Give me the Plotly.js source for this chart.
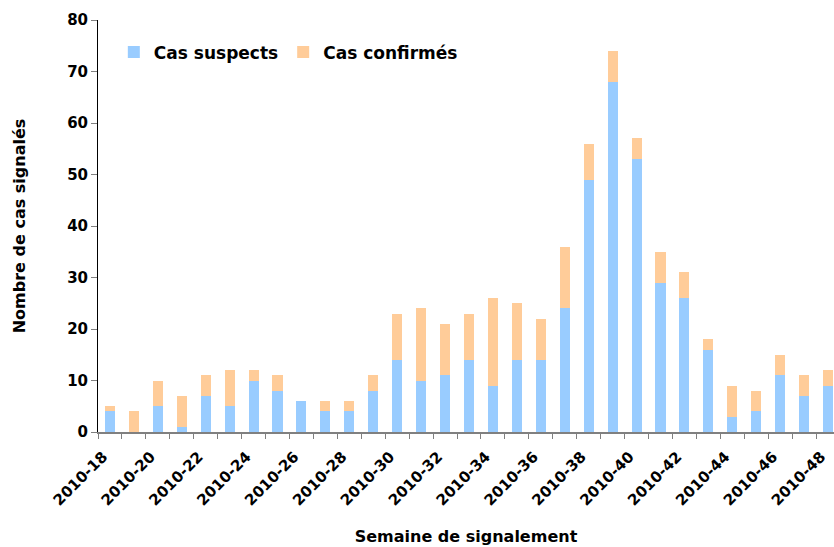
<!DOCTYPE html>
<html>
<head>
<meta charset="utf-8">
<script src="https://cdn.plot.ly/plotly-3.0.1.min.js"></script>
<style>
  html, body { margin: 0; padding: 0; background: #ffffff; overflow: hidden; }
  #chart { width: 834px; height: 547px; }
</style>
</head>
<body>
<div id="chart"></div>
<script>
// Weekly reported cases, 2010 weeks 18 to 48
const weeks = [18, 19, 20, 21, 22, 23, 24, 25, 26, 27, 28, 29, 30, 31, 32, 33,
               34, 35, 36, 37, 38, 39, 40, 41, 42, 43, 44, 45, 46, 47, 48];
const casSuspects = [4, 0, 5, 1, 7, 5, 10, 8, 6, 4, 4, 8, 14, 10, 11, 14,
                     9, 14, 14, 24, 49, 68, 53, 29, 26, 16, 3, 4, 11, 7, 9];
const casConfirmes = [1, 4, 5, 6, 4, 7, 2, 3, 0, 2, 2, 3, 9, 14, 10, 9,
                      17, 11, 8, 12, 7, 6, 4, 6, 5, 2, 6, 4, 4, 4, 3];
// Labelled weeks on the horizontal axis (every second week)
const labelWeeks = [18, 20, 22, 24, 26, 28, 30, 32, 34, 36, 38, 40, 42, 44, 46, 48];
const labelText = labelWeeks.map(w => '2010-' + w);

const FONT = 'DejaVu Sans, Liberation Sans, Arial, sans-serif';

const traces = [
  {
    type: 'bar',
    name: 'Cas suspects',
    x: weeks,
    y: casSuspects,
    marker: { color: '#99CCFF', line: { width: 0 } },
    hoverinfo: 'skip'
  },
  {
    type: 'bar',
    name: 'Cas confirmés',
    x: weeks,
    y: casConfirmes,
    marker: { color: '#FFCC99', line: { width: 0 } },
    hoverinfo: 'skip'
  }
];

const layout = {
  width: 834,
  height: 547,
  margin: { l: 98, r: 0, t: 20, b: 115 },
  paper_bgcolor: '#ffffff',
  plot_bgcolor: '#ffffff',
  barmode: 'stack',
  bargap: 0.58,
  font: { family: FONT, color: '#000000', size: 15, weight: 'bold' },
  showlegend: true,
  legend: {
    orientation: 'h',
    x: 0.0215, xanchor: 'left',
    y: 0.965, yanchor: 'top',
    font: { family: FONT, size: 17, color: '#000000', weight: 'bold' },
    bgcolor: 'rgba(0,0,0,0)',
    traceorder: 'normal'
  },
  xaxis: {
    range: [17.5, 48.25],
    tickmode: 'array',
    tickvals: labelWeeks,
    ticktext: labelText,
    tickangle: -45,
    ticks: '',
    ticklabeloverflow: 'allow',
    ticklabelshift: -7,
    ticklabelstandoff: 8,
    tickfont: { family: FONT, size: 15, color: '#000000', weight: 'bold' },
    showgrid: false,
    zeroline: false,
    showline: true,
    linecolor: '#808080',
    linewidth: 2,
    minor: { tick0: 17.5, dtick: 1, ticks: 'outside', ticklen: 5, tickcolor: '#808080', tickwidth: 1, showgrid: false },
    title: {
      text: 'Semaine de signalement',
      font: { family: FONT, size: 16, color: '#000000', weight: 'bold' },
      standoff: 22
    },
    automargin: false,
    fixedrange: true
  },
  yaxis: {
    range: [0, 80],
    dtick: 10,
    ticks: 'outside',
    ticklen: 6,
    tickcolor: '#808080',
    tickwidth: 1,
    tickfont: { family: FONT, size: 15, color: '#000000', weight: 'bold' },
    showgrid: false,
    zeroline: false,
    showline: true,
    linecolor: '#000000',
    linewidth: 1,
    title: {
      text: 'Nombre de cas signalés',
      font: { family: FONT, size: 16, color: '#000000', weight: 'bold' },
      standoff: 37
    },
    automargin: false,
    fixedrange: true
  }
};

Plotly.newPlot('chart', traces, layout, { staticPlot: true, displayModeBar: false });
</script>
</body>
</html>
